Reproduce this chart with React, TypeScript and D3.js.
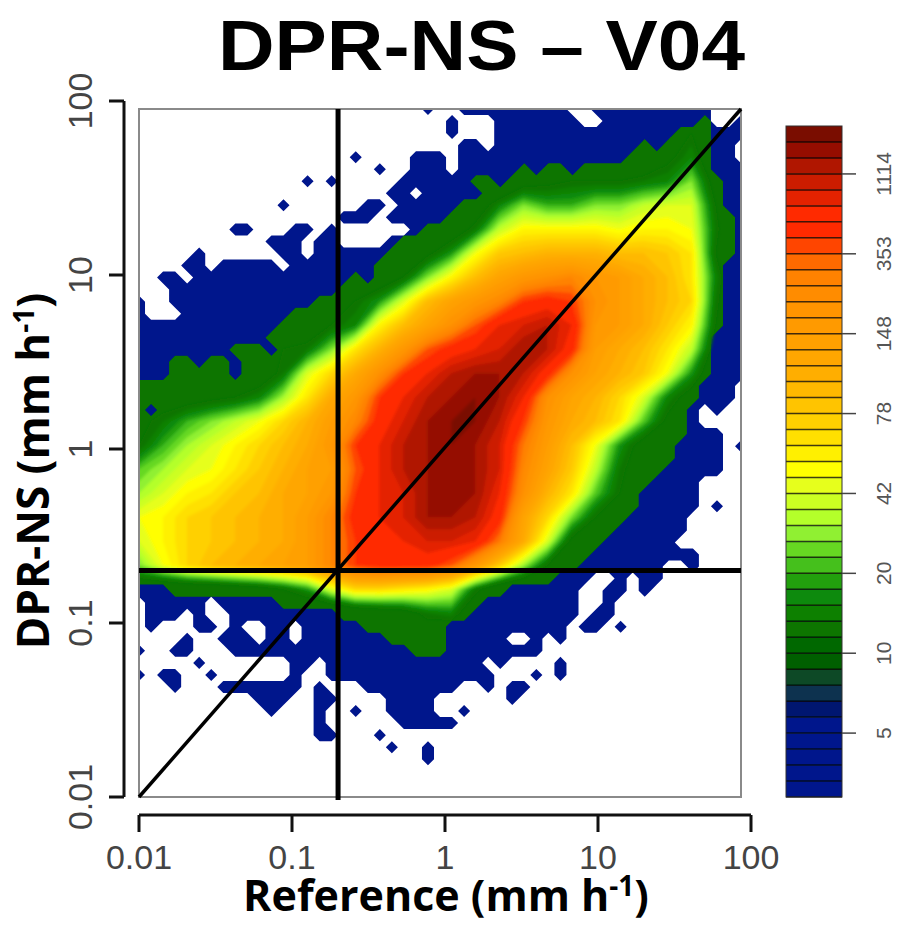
import * as d3 from 'd3';
import React from 'react';

const width = 899;
const height = 926;

const axisTicks = [0.01, 0.1, 1, 10, 100];
const axisLabels = ['0.01', '0.1', '1', '10', '100'];
const rainThreshold = 0.2;

// colour bar, bottom segment first
const barColors = [
  '#00148c', '#00148c', '#00148c', '#00148c', '#00148c', '#041670', '#083050', '#0a4a28', '#065e00', '#066800',
  '#0a7400', '#0a8000', '#108a08', '#22a010', '#44c01c', '#66d824', '#90f030', '#b4ff2a', '#ccff22', '#e6ff1a',
  '#ffff00', '#fff000', '#ffe000', '#ffd000', '#ffc400', '#ffb800', '#ffae00', '#ffa600', '#ffa000', '#ff9a00',
  '#ff9400', '#ff8c00', '#ff8200', '#ff6a00', '#ff4400', '#ff2c00', '#ff2a00', '#e42200', '#cc1c00', '#b01800',
  '#951000', '#7a0a00',
];
const barTickSegments = [4, 9, 14, 19, 24, 29, 34, 39];
const barTickLabels = ['5', '10', '20', '42', '78', '148', '353', '1114'];

// bins holding at least one sample (fine grid, one string per row from the top)
const occupiedRows = [
  '24,27-35,38-47', '26,30-36,39-47,50', '26,30-50', '27-28,30-49', '18,23-25,27-49', '20,23-25,27-50',
  '14,16,22-50', '21-22,24-50', '12,19-20,22-50', '17-19,21-50', '8-9,13-14,16,23-50', '11-13,15-16,21-50',
  '5,12-13,15-50', '4-5,7-11,13-50', '2-3,5-50', '3-50', '0,3-50', '0,4-50',
  '0-50', '0-50', '0-50', '0-50', '0-50', '0-49', '0-49', '0-46,48', '0-46', '0-48', '0-48,50', '0-48', '0-48',
  '0-46', '0-46', '0-46,48', '0-45', '0-45', '0-44', '0-46', '0-43,46', '0-37,40,42-43', '0-36,39-40,42',
  '1-5,7-36,39', '1-3,5,8-36,38-39', '1,5-6,8,11-12,14-35,37-38,40', '4,7-9,11-12,14-30,33,35', '0,3-4,8-33',
  '5,13-14,16-28,30,35', '0,2-3,6,13,16-29,33,35', '3,7-13,15,19-26,29,31-32', '10-12,15-16,21-24,31',
  '11,15,18,21-24,27', '15,22-26', '15-16,20', '21,24', '24', '', '', '',
];

// bins at or above the green part of the bar, same fine grid
const greenRows = [
  '', '47', '45-47', '42,44-47', '41-47', '32,34-35,37-47', '28-29,31-48', '29-48', '27-48', '26-49', '24-49',
  '22-49', '21-49', '20-48', '18,20-48', '17-48', '15-48', '13-48', '12-48', '11-47', '8-10,12-47',
  '3-4,6-7,9-47', '3-7,9-47', '0-46', '0-46', '0,2-45', '0-45', '0-45', '0-44', '0-44', '0-43', '0-42', '0-41',
  '0-41', '0-40', '0-39', '0-38', '0-37', '0-36', '0-34', '3-30', '12-28', '17-27', '19-25', '21-25', '23-25',
  '', '', '', '', '', '', '', '', '', '', '', '',
];

// density read as colour bar segment (coarse grid, rows from the top)
const densityRows = [
  [5, 5, 5, 5, 5, 5, 5, 5, 5, 5, 5, 5, 5, 5, 5, 5, 5, 5, 5, 5, 5, 5, 5, 7, 5, 5],
  [5, 5, 5, 5, 5, 5, 5, 5, 5, 5, 5, 5, 5, 5, 5, 5, 5, 5, 5, 5, 5, 5, 6, 11, 7, 5],
  [5, 5, 5, 5, 5, 5, 5, 5, 5, 5, 5, 5, 5, 5, 5, 5, 6, 5, 5, 5, 5, 7, 10, 13, 7, 5],
  [5, 5, 5, 5, 5, 5, 5, 5, 5, 5, 5, 5, 5, 5, 5, 5, 9, 10, 11, 11, 11, 12, 13, 17, 9, 5],
  [5, 5, 5, 5, 5, 5, 5, 5, 5, 5, 5, 5, 5, 5, 8, 13, 17, 15, 15, 17, 17, 19, 20, 20, 11, 5],
  [5, 5, 5, 5, 5, 5, 5, 5, 5, 5, 5, 5, 5, 8, 12, 19, 22, 22, 22, 22, 21, 22, 22, 21, 12, 5],
  [5, 5, 5, 5, 5, 5, 5, 5, 5, 5, 5, 6, 10, 14, 21, 25, 26, 27, 27, 27, 26, 26, 25, 23, 11, 5],
  [5, 5, 5, 5, 5, 5, 5, 5, 5, 5, 8, 11, 17, 22, 26, 29, 31, 32, 33, 31, 30, 28, 26, 23, 13, 5],
  [5, 5, 5, 5, 5, 5, 5, 5, 9, 11, 14, 20, 26, 29, 31, 33, 36, 37, 36, 32, 30, 28, 26, 24, 12, 5],
  [5, 5, 5, 5, 5, 5, 5, 8, 11, 13, 22, 26, 29, 32, 35, 38, 39, 40, 38, 31, 30, 28, 25, 22, 11, 5],
  [5, 5, 5, 5, 8, 10, 11, 12, 17, 23, 27, 31, 35, 37, 38, 39, 41, 40, 37, 30, 28, 26, 23, 19, 9, 5],
  [5, 5, 7, 8, 9, 8, 12, 20, 24, 28, 32, 36, 38, 40, 41, 41, 40, 37, 32, 29, 27, 25, 21, 14, 7, 5],
  [7, 9, 9, 10, 11, 13, 18, 23, 28, 31, 36, 38, 40, 41, 42, 41, 38, 32, 29, 27, 24, 20, 13, 9, 5, 5],
  [10, 12, 15, 17, 19, 21, 24, 27, 30, 33, 37, 39, 41, 42, 42, 40, 36, 31, 28, 26, 23, 16, 10, 7, 5, 5],
  [11, 15, 18, 20, 22, 24, 26, 28, 31, 36, 38, 40, 41, 42, 41, 39, 34, 30, 26, 21, 14, 9, 7, 5, 5, 5],
  [16, 18, 20, 21, 23, 25, 27, 29, 30, 35, 38, 40, 41, 42, 41, 39, 33, 29, 25, 19, 12, 8, 5, 5, 5, 5],
  [18, 20, 22, 23, 25, 26, 28, 29, 31, 36, 38, 39, 41, 42, 41, 38, 32, 27, 23, 16, 11, 6, 5, 5, 5, 5],
  [21, 22, 24, 25, 26, 27, 28, 30, 33, 37, 38, 39, 41, 41, 40, 37, 29, 24, 17, 11, 6, 5, 5, 5, 5, 5],
  [20, 22, 24, 25, 26, 27, 28, 30, 33, 36, 37, 38, 39, 39, 38, 34, 28, 20, 10, 6, 5, 5, 5, 5, 5, 5],
  [17, 21, 24, 26, 27, 28, 29, 30, 33, 36, 37, 37, 37, 35, 31, 25, 18, 11, 6, 5, 5, 5, 5, 5, 5, 5],
  [6, 6, 7, 7, 8, 9, 11, 14, 20, 24, 24, 23, 22, 20, 12, 7, 5, 5, 5, 5, 5, 5, 5, 5, 5, 5],
  [5, 5, 5, 5, 5, 5, 5, 5, 5, 7, 8, 9, 12, 13, 7, 5, 5, 5, 5, 5, 5, 5, 5, 5, 5, 5],
  [5, 5, 5, 5, 5, 5, 5, 5, 5, 5, 5, 6, 8, 6, 5, 5, 5, 5, 5, 5, 5, 5, 5, 5, 5, 5],
  [5, 5, 5, 5, 5, 5, 5, 5, 5, 5, 5, 5, 5, 5, 5, 5, 5, 5, 5, 5, 5, 5, 5, 5, 5, 5],
];

const x = d3.scaleLog([0.01, 100], [139, 751]);
const y = d3.scaleLog([0.01, 100], [797, 101]);
const barY = d3.scaleLinear([0, barColors.length], [797, 126]);

const box = { left: 139, right: 741, top: 109, bottom: 797 };
const topLog = 1.954; // log10 of the rate at the top of the box

// contour coordinates -> pixels; bin i has its centre at i + 0.5
const binPath = (decX: number, decY: number) =>
  d3.geoPath(
    d3.geoTransform({
      point(u: number, v: number) {
        this.stream.point(x(10 ** (-2 + (u - 0.5) * decX)), y(10 ** (topLog - (v - 0.5) * decY)));
      },
    }),
  );

const parseRow = (row: string) => {
  const cells = new Array(51).fill(0);
  row.split(',').filter(Boolean).forEach((part) => {
    const [a, b] = part.split('-').map(Number);
    for (let i = a; i <= (b ?? a); i++) cells[i] = 1;
  });
  return cells;
};

const fineContour = (rows: string[]) => d3.contours().size([51, rows.length]).thresholds([0.5])(rows.flatMap(parseRow));
const occupied = fineContour(occupiedRows);
const green = fineContour(greenRows);
const density = d3
  .contours()
  .size([26, densityRows.length])
  .thresholds(d3.range(11, barColors.length + 1))(densityRows.flat());

const fineBins = binPath(0.0787, 0.0692);
const coarseBins = binPath(0.157, 0.138);

const tickFont = '"Liberation Sans", Arial, sans-serif';
const titleFont = '"Open Sans", sans-serif';

export default function App() {
  return (
    <svg width={width} height={height} style={{ position: 'absolute', left: 0, top: 0 }}>
      <defs>
        <clipPath id="plot-box">
          <rect x={box.left} y={box.top} width={box.right - box.left} height={box.bottom - box.top} />
        </clipPath>
        <filter id="soft" x="-5%" y="-5%" width="110%" height="110%">
          <feGaussianBlur stdDeviation="0.7" />
        </filter>
        <filter id="softer" x="-5%" y="-5%" width="110%" height="110%">
          <feGaussianBlur stdDeviation="1.6" />
        </filter>
      </defs>
      <rect width={width} height={height} fill="#fff" />

      <g clipPath="url(#plot-box)">
        <g filter="url(#soft)">
          {occupied.map((c, i) => (
            <path key={i} d={fineBins(c) ?? ''} fill={barColors[0]} />
          ))}
          {green.map((c, i) => (
            <path key={i} d={fineBins(c) ?? ''} fill={barColors[10]} />
          ))}
        </g>
        <g filter="url(#softer)">
          {density.map((c) => (
            <path key={c.value} d={coarseBins(c) ?? ''} fill={barColors[c.value - 1]} />
          ))}
        </g>
      </g>

      <rect
        x={box.left}
        y={box.top}
        width={box.right - box.left}
        height={box.bottom - box.top}
        fill="none"
        stroke="#8a8a8a"
        strokeWidth={2}
      />
      <g stroke="#000" filter="url(#soft)">
        <line x1={x(rainThreshold)} x2={x(rainThreshold)} y1={box.top} y2={800} strokeWidth={5} />
        <line x1={box.left} x2={box.right} y1={y(rainThreshold)} y2={y(rainThreshold)} strokeWidth={5} />
        <line x1={x(0.01)} y1={y(0.01)} x2={box.right} y2={box.top} strokeWidth={3.5} />
      </g>

      {/* x axis */}
      <g stroke="#111" strokeWidth={3}>
        <line x1={x(0.01)} x2={x(100)} y1={815} y2={815} />
        {axisTicks.map((t) => (
          <line key={t} x1={x(t)} x2={x(t)} y1={815} y2={832} />
        ))}
      </g>
      <g fontFamily={tickFont} fontSize={34} fill="#444" textAnchor="middle">
        {axisTicks.map((t, i) => (
          <text key={t} x={x(t)} y={869}>
            {axisLabels[i]}
          </text>
        ))}
      </g>

      {/* y axis */}
      <g stroke="#111" strokeWidth={3}>
        <line x1={124} x2={124} y1={y(100)} y2={y(0.01)} />
        {axisTicks.map((t) => (
          <line key={t} x1={109} x2={124} y1={y(t)} y2={y(t)} />
        ))}
      </g>
      <g fontFamily={tickFont} fontSize={34} fill="#444" textAnchor="middle">
        {axisTicks.map((t, i) => (
          <text key={t} transform={`translate(92,${y(t)}) rotate(-90)`}>
            {axisLabels[i]}
          </text>
        ))}
      </g>

      {/* colour bar */}
      <g filter="url(#soft)">
        {barColors.map((c, i) => (
          <rect key={i} x={786} width={56} y={barY(i + 1)} height={barY(i) - barY(i + 1)} fill={c} />
        ))}
        {barColors.map((c, i) => (
          <line key={i} x1={786} x2={842} y1={barY(i)} y2={barY(i)} stroke="#000" strokeOpacity={0.75} strokeWidth={1.5} />
        ))}
        <rect x={786} y={126} width={56} height={671} fill="none" stroke="#333" strokeWidth={1} />
      </g>
      <g stroke="#444" strokeWidth={1.5}>
        {barTickSegments.map((s) => (
          <line key={s} x1={842} x2={856} y1={barY(s)} y2={barY(s)} />
        ))}
      </g>
      <g fontFamily={tickFont} fontSize={21} fill="#555" textAnchor="middle">
        {barTickSegments.map((s, i) => (
          <text key={s} transform={`translate(891,${barY(s)}) rotate(-90)`}>
            {barTickLabels[i]}
          </text>
        ))}
      </g>

      {/* titles */}
      <text
        x={218}
        y={70}
        fontFamily={tickFont}
        fontWeight="bold"
        fontSize={70}
        textLength={527}
        lengthAdjust="spacingAndGlyphs"
        fill="#000"
      >
        DPR-NS – V04
      </text>
      <text x={446} y={911} fontFamily={titleFont} fontWeight="bold" fontSize={43} textAnchor="middle" fill="#000">
        Reference (mm h
        <tspan dy={-15} fontSize={28}>
          -1
        </tspan>
        <tspan dy={15}>)</tspan>
      </text>
      <text
        transform="translate(49,471) rotate(-90)"
        fontFamily={titleFont}
        fontWeight="bold"
        fontSize={44}
        textAnchor="middle"
        fill="#000"
      >
        DPR-NS (mm h
        <tspan dy={-15} fontSize={28}>
          -1
        </tspan>
        <tspan dy={15}>)</tspan>
      </text>
    </svg>
  );
}
